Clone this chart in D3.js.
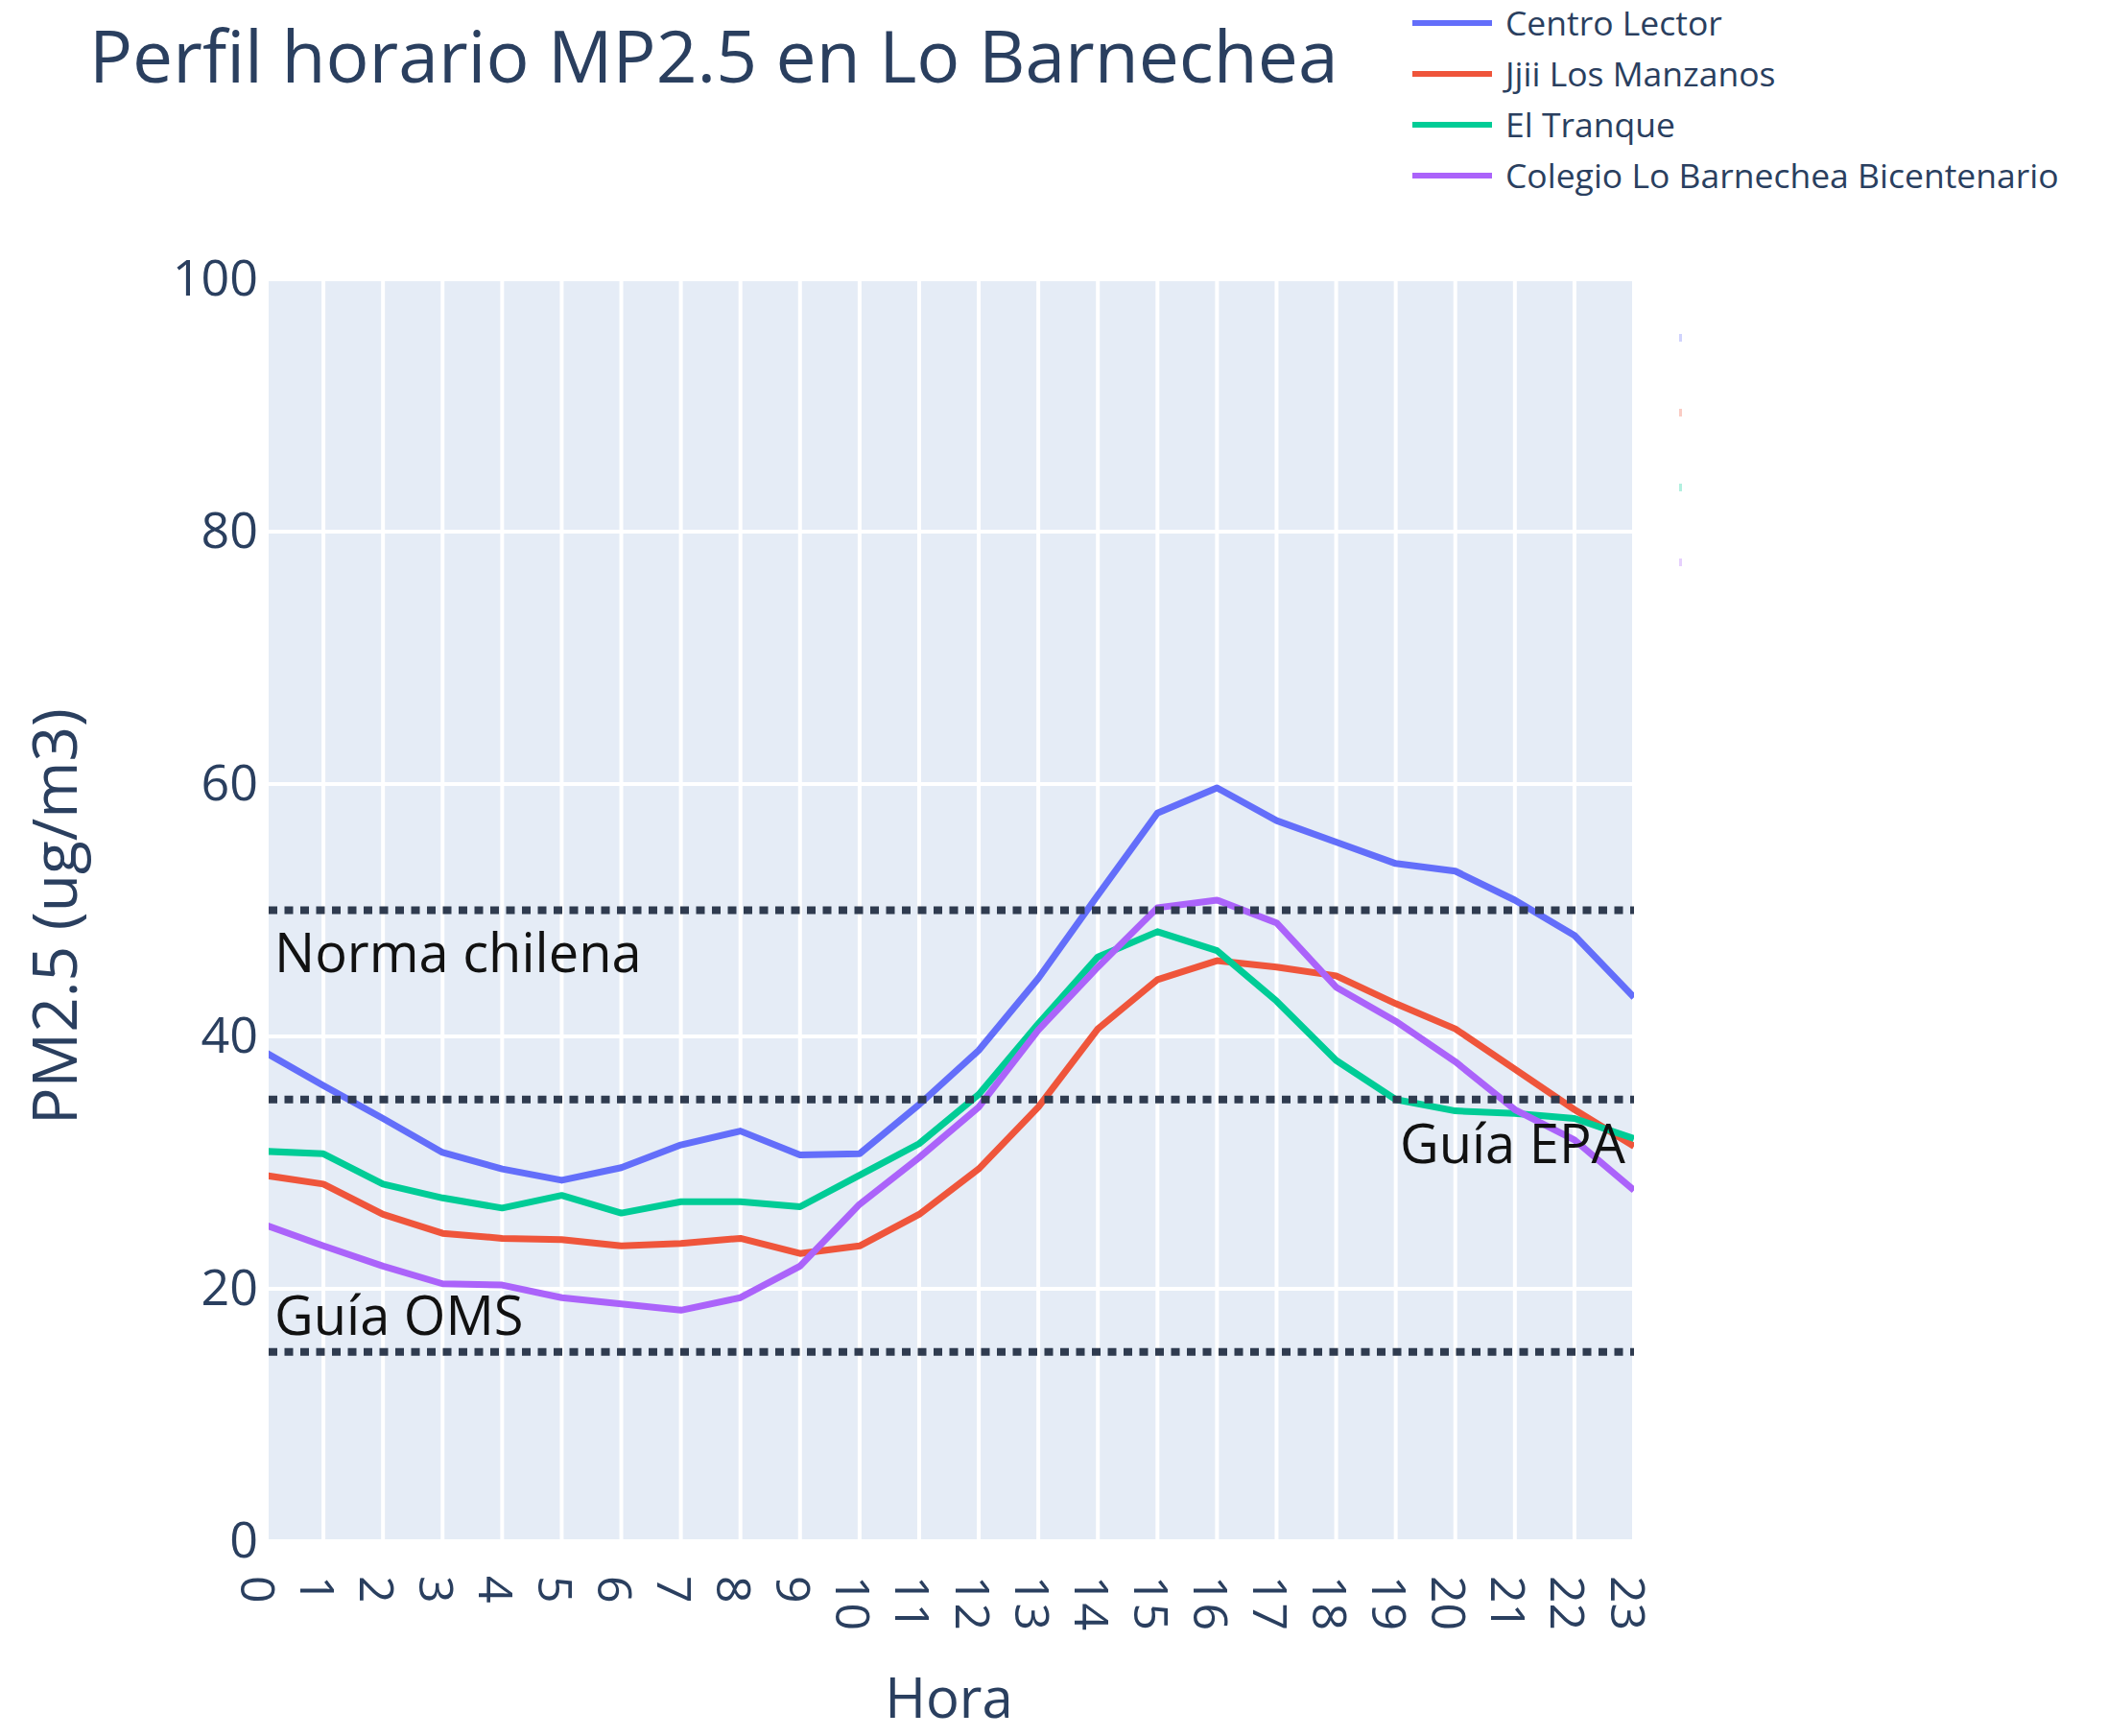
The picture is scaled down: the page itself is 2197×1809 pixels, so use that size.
<!DOCTYPE html>
<html>
<head>
<meta charset="utf-8">
<script src="https://cdn.jsdelivr.net/npm/d3@7"></script>
<style>
  body { margin: 0; background: #fff; }
  svg { display: block; }
  text { font-family: "Open Sans", sans-serif; }
</style>
</head>
<body>
<div id="chart"></div>
<script>
const hours = [0, 1, 2, 3, 4, 5, 6, 7, 8, 9, 10, 11, 12, 13, 14, 15, 16, 17, 18, 19, 20, 21, 22, 23];

const centroLector = [38.8, 36.1, 33.5, 30.8, 29.5, 28.6, 29.6, 31.4, 32.5, 30.6, 30.7, 34.6,
                      38.9, 44.6, 51.2, 57.7, 59.7, 57.1, 55.4, 53.7, 53.1, 50.8, 48.0, 43.1];
const jjiiLosManzanos = [29.0, 28.3, 25.9, 24.4, 24.0, 23.9, 23.4, 23.6, 24.0, 22.8, 23.4, 25.9,
                         29.5, 34.4, 40.6, 44.5, 46.0, 45.5, 44.8, 42.6, 40.6, 37.4, 34.2, 31.3];
const elTranque = [30.9, 30.7, 28.3, 27.2, 26.4, 27.4, 26.0, 26.9, 26.9, 26.5, 29.0, 31.5,
                   35.4, 41.0, 46.3, 48.3, 46.8, 42.8, 38.1, 35.0, 34.1, 33.9, 33.5, 31.9];
const colegioBicentenario = [25.1, 23.4, 21.8, 20.4, 20.3, 19.3, 18.8, 18.3, 19.3, 21.8, 26.7, 30.4,
                             34.4, 40.5, 45.5, 50.2, 50.8, 49.0, 43.9, 41.2, 38.0, 34.2, 31.8, 27.8];

const seriesNames = ["Centro Lector", "Jjii Los Manzanos", "El Tranque", "Colegio Lo Barnechea Bicentenario"];
const seriesColors = ["#636efa", "#EF553B", "#00cc96", "#ab63fa"];
const seriesValues = [centroLector, jjiiLosManzanos, elTranque, colegioBicentenario];

const guideValues = [50, 35, 15];
const guideLabels = ["Norma chilena", "Guía EPA", "Guía OMS"];

const yTicks = [0, 20, 40, 60, 80, 100];

const width = 2197;
const height = 1809;
const plot = { left: 280, right: 1703, top: 291, bottom: 1606 };
const textColor = "#2a3f5f";

const x = d3.scaleLinear().domain([0, 23]).range([275, plot.right]);
const y = d3.scaleLinear().domain([0, 100]).range([plot.bottom, plot.top]);

const svg = d3.select("#chart").append("svg")
  .attr("width", width)
  .attr("height", height);

svg.append("defs").append("clipPath").attr("id", "plot-clip")
  .append("rect")
  .attr("x", plot.left).attr("y", plot.top)
  .attr("width", plot.right - plot.left).attr("height", plot.bottom - plot.top);

// background + grid
svg.append("rect")
  .attr("x", plot.left).attr("y", plot.top)
  .attr("width", plot.right - plot.left).attr("height", plot.bottom - plot.top)
  .attr("fill", "#e5ecf6");

const grid = svg.append("g").attr("clip-path", "url(#plot-clip)");
grid.selectAll(".vgrid")
  .data(hours)
  .enter().append("line")
  .attr("x1", d => x(d)).attr("x2", d => x(d))
  .attr("y1", plot.top).attr("y2", plot.bottom)
  .attr("stroke", "#fff").attr("stroke-width", 4);
grid.selectAll(".hgrid")
  .data(yTicks)
  .enter().append("line")
  .attr("x1", plot.left).attr("x2", plot.right)
  .attr("y1", d => y(d)).attr("y2", d => y(d))
  .attr("stroke", "#fff").attr("stroke-width", 4);

// series
const line = d3.line()
  .x((d, i) => x(hours[i]))
  .y(d => y(d));

svg.append("g").attr("clip-path", "url(#plot-clip)")
  .selectAll("path")
  .data(seriesValues)
  .enter().append("path")
  .attr("d", line)
  .attr("fill", "none")
  .attr("stroke", (d, i) => seriesColors[i])
  .attr("stroke-width", 7)
  .attr("stroke-linejoin", "round");

// reference lines
svg.selectAll(".guide")
  .data(guideValues)
  .enter().append("line")
  .attr("x1", plot.left).attr("x2", plot.right)
  .attr("y1", d => y(d)).attr("y2", d => y(d))
  .attr("stroke", "#2f3b4f")
  .attr("stroke-width", 8)
  .attr("stroke-dasharray", "9,7.5");

const annot = svg.append("g")
  .style("font-size", "56px")
  .attr("fill", "#111");
annot.append("text")
  .attr("x", plot.left + 6).attr("y", y(guideValues[0]) + 64)
  .text(guideLabels[0]);
annot.append("text")
  .attr("x", plot.right - 9).attr("y", y(guideValues[1]) + 66)
  .attr("text-anchor", "end")
  .text(guideLabels[1]);
annot.append("text")
  .attr("x", plot.left + 6).attr("y", y(guideValues[2]) - 18)
  .text(guideLabels[2]);

// axes
const yAxis = svg.append("g")
  .attr("transform", `translate(${plot.left},0)`)
  .call(d3.axisLeft(y).tickValues(yTicks).tickSize(0).tickPadding(11));
yAxis.select(".domain").remove();
yAxis.selectAll("text")
  .attr("fill", textColor)
  .style("font-size", "52px")
  .style("font-family", "'Open Sans', sans-serif");

const xAxis = svg.append("g")
  .attr("transform", `translate(0,${plot.bottom})`)
  .call(d3.axisBottom(x).tickValues(hours).tickFormat(d3.format("d")).tickSize(0));
xAxis.select(".domain").remove();
xAxis.selectAll("text")
  .attr("fill", textColor)
  .style("font-size", "50px")
  .style("font-family", "'Open Sans', sans-serif")
  .style("text-anchor", "start")
  .attr("transform", "rotate(90)")
  .attr("x", 36)
  .attr("y", 0)
  .attr("dy", "0.5em");

svg.append("text")
  .attr("x", 989).attr("y", 1790)
  .attr("text-anchor", "middle")
  .attr("fill", textColor)
  .style("font-size", "58px")
  .text("Hora");

svg.append("text")
  .attr("transform", "translate(80,955) rotate(-90)")
  .attr("text-anchor", "middle")
  .attr("fill", textColor)
  .style("font-size", "64px")
  .text("PM2.5 (ug/m3)");

// title
svg.append("text")
  .attr("x", 93).attr("y", 86)
  .attr("fill", textColor)
  .style("font-size", "75px")
  .text("Perfil horario MP2.5 en Lo Barnechea");

// legend
const legendY = d3.scalePoint().domain(seriesNames).range([24, 183]);
const legend = svg.append("g");
const item = legend.selectAll("g")
  .data(seriesNames)
  .enter().append("g")
  .attr("transform", d => `translate(0,${legendY(d)})`);
item.append("line")
  .attr("x1", 1472).attr("x2", 1555)
  .attr("stroke", (d, i) => seriesColors[i])
  .attr("stroke-width", 6);
item.append("text")
  .attr("x", 1569)
  .attr("dy", "0.36em")
  .attr("fill", textColor)
  .style("font-size", "35.5px")
  .text(d => d);

// faint leftover marks right of the plot
const markY = d3.scalePoint().domain(seriesNames).range([352, 586]);
svg.selectAll(".mark")
  .data(seriesNames)
  .enter().append("rect")
  .attr("x", 1750).attr("y", d => markY(d) - 4)
  .attr("width", 3).attr("height", 8)
  .attr("fill", (d, i) => seriesColors[i])
  .attr("opacity", 0.3);
</script>
</body>
</html>
